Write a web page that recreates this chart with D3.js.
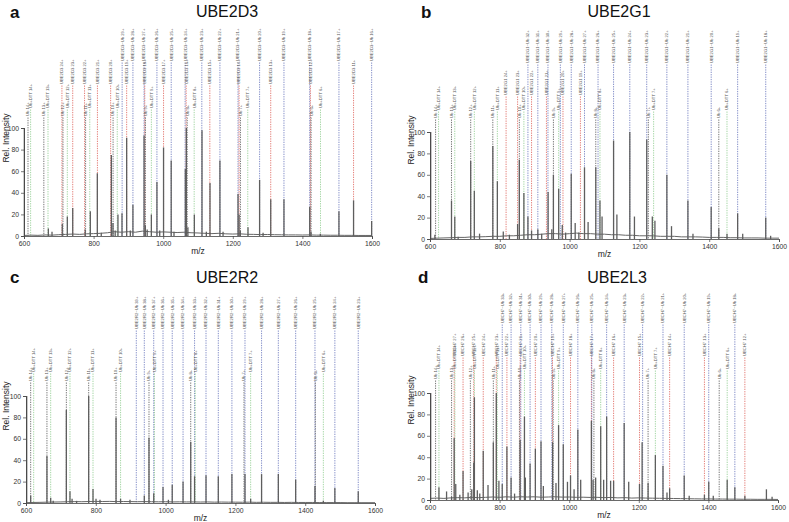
<!DOCTYPE html>
<html><head><meta charset="utf-8">
<script src="https://cdn.jsdelivr.net/npm/d3@7"></script>
<style>body{margin:0;background:#fff}svg{display:block}text{font-family:"Liberation Sans",Arial,sans-serif}</style>
</head><body><svg id="chart" width="789" height="522"></svg>
<script>
// ---------- data ----------
const xTicks = [600, 800, 1000, 1200, 1400, 1600];
const yTicks = [0, 20, 40, 60, 80, 100];
const panelLetters = ["a", "b", "c", "d"];
const panelTitles = ["UBE2D3", "UBE2G1", "UBE2R2", "UBE2L3"];

// peaks: [m/z, relative intensity]
const peaksA = [[601,100],[670,7],[680.5,4],[710,11],[724.5,18],[740,26],[776,6],[790.6,23],[810.7,58],[822,3],[851,75],[855.7,12],[862,5],[870,20],[881.6,21],[895,91],[905.5,5],[913,29],[945,93],[948.6,10],[954,6],[966,20],[982,50],[990,5],[1001,82],[1023,70],[1031,4],[1063.6,62],[1066.5,100],[1071,8],[1089.5,20],[1111.5,98],[1124,4],[1134.5,49],[1163,70],[1172,4],[1215,39],[1218,20],[1221.6,5],[1243.7,8],[1277,52],[1287,3],[1309,34],[1347,34],[1421,27],[1424.7,4],[1451.5,2],[1505,23],[1547,33],[1599,14]];
const peaksB = [[602,100],[614,4],[661.6,36],[671,21],[680.6,2],[716.6,73],[727,45],[742,5],[780,87],[793,54],[810,7],[827.5,4],[851,14],[856,74],[869,43],[880.6,21],[891,8],[909,9],[920,5],[938.4,44],[949,9],[953.6,60],[968.7,47],[979,13],[988.6,6],[1004.7,61],[1016,15],[1026.5,6],[1042.7,67],[1053,16],[1075,67],[1087,36],[1093,21],[1126,92],[1135.5,23],[1172.5,100],[1185.8,21],[1221,93],[1237,21],[1244.5,17],[1278.7,60],[1292,12],[1339,36],[1353.5,5],[1405.7,30],[1427.5,10],[1451,5],[1481.5,24],[1496,5],[1562,20],[1576,3]];
const peaksC = [[602,100],[613.4,7],[660,44],[670.7,5],[678,2],[715.6,87],[726,11],[732,4],[745,2],[779.6,100],[792,13],[800.6,4],[812,3],[858,80],[871,4],[898,3],[939,7],[952.4,61],[966,9],[992.6,15],[1008,3],[1019,17],[1050,20],[1072,57],[1083,25],[1115.8,26],[1151,25],[1190,27],[1227.5,27],[1243.7,4],[1275,27],[1323,27],[1372.7,22],[1428,16],[1452,2],[1485,14],[1552,11]];
const peaksD = [[602,100],[625.7,12],[647.6,8],[662,3],[669.5,58],[674,15],[685.7,5],[695,27],[709.5,7],[720,10],[725.7,35],[727.6,96],[736,9],[743,6],[753,46],[766.7,14],[782,54],[790.5,100],[798,18],[807.6,15],[821,50],[833,21],[843,6],[859,56],[871.4,78],[874,21],[887.6,34],[902.8,48],[919,55],[925.7,13],[952.4,54],[962,16],[969.5,70],[983,52],[995,17],[1003.8,23],[1014,10],[1024.8,66],[1033,19],[1063.8,74],[1068.6,19],[1076,21],[1090.5,69],[1099,19],[1107.6,78],[1119,18],[1127.6,18],[1158,72],[1171,17],[1202,15],[1209.5,54],[1226.7,16],[1247.6,42],[1269.5,32],[1281,7],[1288.6,11],[1330.5,23],[1344.8,4],[1388.6,5],[1401,17],[1414,4],[1454,19],[1476,12],[1504.8,4],[1566.7,10],[1583,3]];

// baseline noise: [m/z, intensity]
const noiseA = [[600,0.5],[620,0.8],[640,0.6],[660,1],[680,0.8],[700,1.2],[720,1.5],[740,1.8],[760,1.5],[780,2],[800,2.2],[820,2.5],[840,3],[860,4],[880,3.5],[900,4],[920,3.5],[940,4.5],[960,4],[980,3.5],[1000,3.8],[1020,3.5],[1040,3.2],[1060,3.5],[1080,3],[1100,2.8],[1120,2.5],[1140,2.2],[1160,2.5],[1180,2],[1200,1.8],[1220,2],[1240,1.6],[1260,1.5],[1280,1.3],[1300,1.4],[1320,1.2],[1340,1.1],[1360,1],[1380,1],[1400,0.9],[1420,1],[1440,0.8],[1460,0.8],[1480,0.7],[1500,0.7],[1520,0.6],[1540,0.6],[1560,0.5],[1580,0.5],[1600,0.5]];
const noiseB = [[600,0.5],[620,0.8],[640,1],[660,1.2],[680,1.5],[700,1.5],[720,2],[740,2],[760,2.2],[780,2.5],[800,2.5],[820,3],[840,3],[860,3.5],[880,4],[900,4],[920,4.5],[940,5],[960,5],[980,4.5],[1000,5],[1020,5.5],[1040,5],[1060,5],[1080,4.5],[1100,4.5],[1120,4],[1140,4],[1160,3.5],[1180,3.5],[1200,3],[1220,3],[1240,3],[1260,2.5],[1280,2.5],[1300,2.5],[1320,2],[1340,2],[1360,2],[1380,1.8],[1400,1.5],[1420,1.5],[1440,1.5],[1460,1.2],[1480,1.2],[1500,1],[1520,1],[1540,1],[1560,0.8],[1580,0.8],[1600,0.8]];
const noiseC = [[600,0.3],[620,0.5],[640,0.6],[660,0.8],[680,0.9],[700,1],[720,1.2],[740,1.3],[760,1.2],[780,1.4],[800,1.5],[820,1.4],[840,1.5],[860,1.3],[880,1.4],[900,1.3],[920,1.2],[940,1.3],[960,1.2],[980,1.1],[1000,1.2],[1020,1],[1040,1.1],[1060,1],[1080,1],[1100,0.9],[1120,1],[1140,0.8],[1160,0.9],[1180,0.8],[1200,0.8],[1220,0.7],[1240,0.8],[1260,0.6],[1280,0.7],[1300,0.6],[1320,0.6],[1340,0.5],[1360,0.6],[1380,0.5],[1400,0.5],[1420,0.5],[1440,0.4],[1460,0.4],[1480,0.4],[1500,0.4],[1520,0.3],[1540,0.3],[1560,0.3],[1580,0.3],[1600,0.3]];
const noiseD = [[600,1.5],[620,1.8],[640,1.5],[660,2],[680,2.2],[700,2],[720,2.5],[740,2.2],[760,2.5],[780,2.8],[800,2.5],[820,3],[840,2.6],[860,3],[880,2.8],[900,3],[920,2.6],[940,2.8],[960,3],[980,2.7],[1000,2.8],[1020,2.5],[1040,2.6],[1060,2.4],[1080,2.5],[1100,2.2],[1120,2.4],[1140,2],[1160,2.2],[1180,1.8],[1200,2],[1220,1.8],[1240,1.7],[1260,1.6],[1280,1.5],[1300,1.4],[1320,1.3],[1340,1.2],[1360,1.1],[1380,1],[1400,1],[1420,0.9],[1440,0.9],[1460,0.8],[1480,0.8],[1500,0.7],[1520,0.7],[1540,0.6],[1560,0.6],[1580,0.6],[1600,0.5]];

// annotations: [m/z, label, species]  species: Ub, DTT (Ub+DTT), E2, E2Ub (E2~Ub)
const annA = [[611.5,"Ub 14+","Ub"],[619,"Ub+DTT 14+","DTT"],[657,"Ub 13+","Ub"],[669,"Ub+DTT 13+","DTT"],[709,"UBE2D3 24+","E2"],[712,"Ub 12+","Ub"],[724.5,"Ub+DTT 12+","DTT"],[740,"UBE2D3 23+","E2"],[774,"UBE2D3 22+","E2"],[777,"Ub 11+","Ub"],[789,"Ub+DTT 11+","DTT"],[811,"UBE2D3 21+","E2"],[849,"UBE2D3 20+","E2"],[856,"Ub 10+","Ub"],[868,"Ub+DTT 10+","DTT"],[882,"UBE2D3~Ub 29+","E2Ub"],[895,"UBE2D3 19+","E2"],[913,"UBE2D3~Ub 28+","E2Ub"],[945,"UBE2D3~Ub 27+","E2Ub"],[947,"UBE2D3 18+","E2"],[949,"Ub 9+","Ub"],[966,"Ub+DTT 9+","DTT"],[982,"UBE2D3~Ub 26+","E2Ub"],[1001,"UBE2D3 17+","E2"],[1023,"UBE2D3~Ub 25+","E2Ub"],[1063,"UBE2D3~Ub 24+","E2Ub"],[1066,"UBE2D3 16+","E2"],[1069,"Ub 8+","Ub"],[1089,"Ub+DTT 8+","DTT"],[1111,"UBE2D3~Ub 23+","E2Ub"],[1134,"UBE2D3 15+","E2"],[1163,"UBE2D3~Ub 22+","E2Ub"],[1215,"UBE2D3~Ub 21+","E2Ub"],[1218,"UBE2D3 14+","E2"],[1222,"Ub 7+","Ub"],[1243,"Ub+DTT 7+","DTT"],[1277,"UBE2D3~Ub 20+","E2Ub"],[1309,"UBE2D3 13+","E2"],[1347,"UBE2D3~Ub 19+","E2Ub"],[1421,"UBE2D3~Ub 18+","E2Ub"],[1423,"UBE2D3 12+","E2"],[1425,"Ub 6+","Ub"],[1452,"Ub+DTT 6+","DTT"],[1505,"UBE2D3~Ub 17+","E2Ub"],[1547,"UBE2D3 11+","E2"],[1599,"UBE2D3~Ub 16+","E2Ub"]];
const annB = [[616,"Ub 14+","Ub"],[624.6,"Ub+DTT 14+","DTT"],[661.6,"Ub 13+","Ub"],[671,"Ub+DTT 13+","DTT"],[716.6,"Ub 12+","Ub"],[727,"Ub+DTT 12+","DTT"],[780,"Ub 11+","Ub"],[793,"Ub+DTT 11+","DTT"],[818,"UBE2G1 24+","E2"],[851,"UBE2G1 23+","E2"],[856,"Ub 10+","Ub"],[869,"Ub+DTT 10+","DTT"],[880.6,"UBE2G1~Ub 32+","E2Ub"],[891,"UBE2G1 22+","E2"],[909,"UBE2G1~Ub 31+","E2Ub"],[933.6,"UBE2G1 21+","E2"],[938,"UBE2G1~Ub 30+","E2Ub"],[953.6,"Ub 9+","Ub"],[968.7,"Ub+DTT 9+","DTT"],[973.5,"UBE2G1~Ub 29+","E2Ub"],[981,"UBE2G1 20+","E2"],[1004.7,"UBE2G1~Ub 28+","E2Ub"],[1031,"UBE2G1 19+","E2"],[1042.7,"UBE2G1~Ub 27+","E2Ub"],[1075,"Ub 8+","Ub"],[1081.5,"UBE2G1~Ub 26+","E2Ub"],[1087,"Ub+DTT 8+","DTT"],[1126,"UBE2G1~Ub 25+","E2Ub"],[1172.5,"UBE2G1~Ub 24+","E2Ub"],[1221,"UBE2G1~Ub 23+","E2Ub"],[1225.6,"Ub 7+","Ub"],[1240.8,"Ub+DTT 7+","DTT"],[1278.7,"UBE2G1~Ub 22+","E2Ub"],[1339,"UBE2G1~Ub 21+","E2Ub"],[1405.7,"UBE2G1~Ub 20+","E2Ub"],[1427.5,"Ub 6+","Ub"],[1451,"Ub+DTT 6+","DTT"],[1481.5,"UBE2G1~Ub 19+","E2Ub"],[1562,"UBE2G1~Ub 18+","E2Ub"]];
const annC = [[613.4,"Ub 14+","Ub"],[622,"Ub+DTT 14+","DTT"],[660,"Ub 13+","Ub"],[670.7,"Ub+DTT 13+","DTT"],[715.6,"Ub 12+","Ub"],[726,"Ub+DTT 12+","DTT"],[779.6,"Ub 11+","Ub"],[792,"Ub+DTT 11+","DTT"],[858,"Ub 10+","Ub"],[871,"Ub+DTT 10+","DTT"],[916,"UBE2R2~Ub 39+","E2Ub"],[939,"UBE2R2~Ub 38+","E2Ub"],[952.4,"Ub 9+","Ub"],[966,"UBE2R2~Ub 37+","E2Ub"],[968,"Ub+DTT 9+","DTT"],[992.6,"UBE2R2~Ub 36+","E2Ub"],[1019,"UBE2R2~Ub 35+","E2Ub"],[1050,"UBE2R2~Ub 34+","E2Ub"],[1072,"Ub 8+","Ub"],[1083,"UBE2R2~Ub 33+","E2Ub"],[1085,"Ub+DTT 8+","DTT"],[1115.8,"UBE2R2~Ub 32+","E2Ub"],[1151,"UBE2R2~Ub 31+","E2Ub"],[1190,"UBE2R2~Ub 30+","E2Ub"],[1224.6,"Ub 7+","Ub"],[1227.5,"UBE2R2~Ub 29+","E2Ub"],[1243.7,"Ub+DTT 7+","DTT"],[1275,"UBE2R2~Ub 28+","E2Ub"],[1323,"UBE2R2~Ub 27+","E2Ub"],[1372.7,"UBE2R2~Ub 26+","E2Ub"],[1428,"UBE2R2~Ub 25+","E2Ub"],[1429,"Ub 6+","Ub"],[1452,"Ub+DTT 6+","DTT"],[1485,"UBE2R2~Ub 24+","E2Ub"],[1552,"UBE2R2~Ub 23+","E2Ub"]];
const annD = [[616,"Ub 14+","Ub"],[625.7,"Ub+DTT 14+","DTT"],[662,"Ub 13+","Ub"],[669.5,"UBCH7 27+","E2"],[671.5,"Ub+DTT 13+","DTT"],[695,"UBCH7 26+","E2"],[716,"Ub 12+","Ub"],[725.7,"UBCH7 25+","E2"],[727.6,"Ub+DTT 12+","DTT"],[753,"UBCH7 24+","E2"],[782,"Ub 11+","Ub"],[790.5,"UBCH7 23+","E2"],[793.3,"Ub+DTT 11+","DTT"],[807.6,"UBCH7~Ub 33+","E2Ub"],[821,"UBCH7 22+","E2"],[833,"UBCH7~Ub 32+","E2Ub"],[857,"Ub 10+","Ub"],[859,"UBCH7 21+","E2"],[861,"UBCH7~Ub 31+","E2Ub"],[871.4,"Ub+DTT 10+","DTT"],[887.6,"UBCH7~Ub 30+","E2Ub"],[902.8,"UBCH7 20+","E2"],[919,"UBCH7~Ub 29+","E2Ub"],[950,"UBCH7~Ub 28+","E2Ub"],[952,"UBCH7 19+","E2"],[954,"Ub 9+","Ub"],[969.5,"Ub+DTT 9+","DTT"],[983,"UBCH7~Ub 27+","E2Ub"],[1003.8,"UBCH7 18+","E2"],[1024.8,"UBCH7~Ub 26+","E2Ub"],[1063.8,"UBCH7 17+","E2"],[1065,"UBCH7~Ub 25+","E2Ub"],[1071,"Ub 8+","Ub"],[1090.5,"Ub+DTT 8+","DTT"],[1107.6,"UBCH7~Ub 24+","E2Ub"],[1127.6,"UBCH7 16+","E2"],[1158,"UBCH7~Ub 23+","E2Ub"],[1202,"UBCH7 15+","E2"],[1211,"UBCH7~Ub 22+","E2Ub"],[1226.7,"Ub 7+","Ub"],[1247.6,"Ub+DTT 7+","DTT"],[1269.5,"UBCH7~Ub 21+","E2Ub"],[1288.6,"UBCH7 14+","E2"],[1330.5,"UBCH7~Ub 20+","E2Ub"],[1388.6,"UBCH7 13+","E2"],[1401,"UBCH7~Ub 19+","E2Ub"],[1431,"Ub 6+","Ub"],[1454,"Ub+DTT 6+","DTT"],[1476,"UBCH7~Ub 18+","E2Ub"],[1504.8,"UBCH7 12+","E2"]];

// ---------- layout / style ----------
const speciesColor = {Ub: "#3a3a3a", DTT: "#7cc47c", E2: "#d9483f", E2Ub: "#4d5db0"};
const layouts = [
  {peaks: peaksA, noise: noiseA, ann: annA, letter: [10,18], title: [227,17], x: [24,372], y: [236,128], tiers: {E2Ub:61, E2:84, DTT:108, Ub:116}, ylab: [6,138]},
  {peaks: peaksB, noise: noiseB, ann: annB, letter: [421,18], title: [619,17], x: [430,779], y: [239,132], tiers: {E2Ub:63, E2:95, DTT:110, Ub:118}, ylab: [411,140]},
  {peaks: peaksC, noise: noiseC, ann: annC, letter: [10,283], title: [227,283], x: [26,375], y: [503,396], tiers: {E2Ub:329, E2:356, DTT:372, Ub:381}, ylab: [6,406]},
  {peaks: peaksD, noise: noiseD, ann: annD, letter: [418,283], title: [617,283], x: [430,778], y: [500,393], tiers: {E2Ub:323, E2:356, DTT:369, Ub:379}, ylab: [411,400]}
];

const svg = d3.select("#chart");

layouts.forEach((L, i) => {
  const g = svg.append("g");
  const x = d3.scaleLinear().domain([600,1600]).range(L.x);
  const y = d3.scaleLinear().domain([0,100]).range(L.y);

  // letter & title
  g.append("text").attr("x", L.letter[0]).attr("y", L.letter[1])
    .attr("font-size", 17).attr("font-weight", "bold").attr("fill", "#111").text(panelLetters[i]);
  g.append("text").attr("x", L.title[0]).attr("y", L.title[1]).attr("text-anchor", "middle")
    .attr("font-size", 16).attr("fill", "#111").text(panelTitles[i]);

  // annotation dashed lines + labels
  L.ann.forEach(([mz, lab, sp]) => {
    const bottom = L.tiers[sp];
    const px = x(mz);
    g.append("line").attr("x1", px).attr("x2", px).attr("y1", bottom + 1.5).attr("y2", y(0))
      .attr("stroke", speciesColor[sp]).attr("stroke-width", 0.7).attr("stroke-dasharray", "1.3,1.1");
    g.append("text").attr("transform", `translate(${px + 1.4},${bottom}) rotate(-90)`)
      .attr("font-size", 4.2).attr("fill", "#555").text(lab);
  });

  // baseline noise
  g.append("path").datum(L.noise)
    .attr("d", d3.line().x(d => x(d[0])).y(d => y(d[1])))
    .attr("fill", "none").attr("stroke", "#666").attr("stroke-width", 1);

  // peaks
  g.selectAll(null).data(L.peaks).enter().append("line")
    .attr("x1", d => x(d[0])).attr("x2", d => x(d[0]))
    .attr("y1", y(0)).attr("y2", d => y(d[1]))
    .attr("stroke", "#5e5e5e").attr("stroke-width", 1.3);

  // axes
  const xa = g.append("g").attr("transform", `translate(0,${y(0)})`)
    .call(d3.axisBottom(x).tickValues(xTicks).tickSize(3).tickPadding(2).tickFormat(d3.format("d")));
  const ya = g.append("g").attr("transform", `translate(${L.x[0]},0)`)
    .call(d3.axisLeft(y).tickValues(yTicks).tickSize(3).tickPadding(2));
  [xa, ya].forEach(a => {
    a.select(".domain").attr("stroke", "#444").attr("stroke-width", 0.8);
    a.selectAll(".tick line").attr("stroke", "#444").attr("stroke-width", 0.7);
    a.selectAll(".tick text").attr("font-size", 6.8).attr("fill", "#333")
      .attr("font-family", "Liberation Sans, Arial, sans-serif");
  });

  // axis titles
  g.append("text").attr("x", (L.x[0] + L.x[1]) / 2).attr("y", y(0) + 18).attr("text-anchor", "middle")
    .attr("font-size", 8.5).attr("fill", "#222").text("m/z");
  g.append("text").attr("transform", `translate(${L.ylab[0] + 3},${L.ylab[1]}) rotate(-90)`)
    .attr("text-anchor", "middle").attr("font-size", 8.5).attr("fill", "#222").text("Rel. Intensity");
});
</script></body></html>
